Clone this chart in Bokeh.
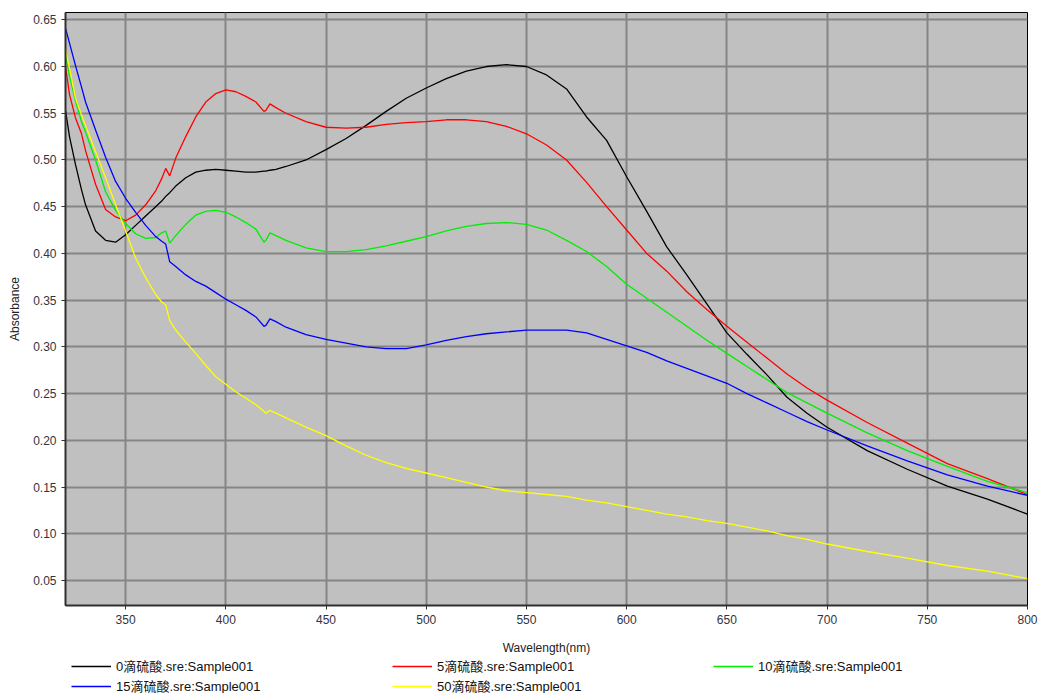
from bokeh.plotting import figure
from bokeh.layouts import column
from bokeh.models import Range1d, Legend, LegendItem, FixedTicker, PrintfTickFormatter
from bokeh.embed import file_html
from bokeh.resources import INLINE

wavelength = [320, 322, 325, 328, 330, 335, 340, 345, 350, 355, 360, 365, 368, 370, 372, 375,
              380, 385, 390, 395, 400, 405, 410, 415, 419, 420, 422, 425, 430, 440, 450, 460,
              470, 480, 490, 500, 510, 520, 530, 540, 550, 560, 570, 580, 590, 600, 610, 620,
              630, 640, 650, 660, 670, 680, 690, 700, 720, 740, 760, 780, 800]

abs_0 = [0.553, 0.525, 0.495, 0.468, 0.452, 0.424, 0.414, 0.412, 0.420, 0.430, 0.440, 0.450, 0.456, 0.461, 0.465, 0.472,
         0.481, 0.487, 0.489, 0.490, 0.489, 0.488, 0.487, 0.487, 0.488, 0.488, 0.489, 0.490, 0.493, 0.500, 0.511, 0.523,
         0.537, 0.552, 0.566, 0.577, 0.587, 0.595, 0.600, 0.602, 0.600, 0.591, 0.576, 0.546, 0.521, 0.482, 0.445, 0.407,
         0.377, 0.346, 0.315, 0.292, 0.270, 0.246, 0.229, 0.214, 0.189, 0.169, 0.151, 0.137, 0.121]

abs_5 = [0.600, 0.570, 0.545, 0.528, 0.510, 0.474, 0.447, 0.439, 0.435, 0.441, 0.452, 0.467, 0.480, 0.491, 0.483, 0.502,
         0.525, 0.546, 0.562, 0.571, 0.575, 0.573, 0.568, 0.562, 0.552, 0.553, 0.560, 0.556, 0.550, 0.541, 0.535, 0.534,
         0.535, 0.538, 0.540, 0.541, 0.543, 0.543, 0.541, 0.536, 0.528, 0.516, 0.500, 0.476, 0.450, 0.425, 0.400, 0.381,
         0.359, 0.340, 0.322, 0.305, 0.288, 0.271, 0.256, 0.243, 0.219, 0.197, 0.175, 0.159, 0.142]

abs_10 = [0.612, 0.590, 0.563, 0.541, 0.530, 0.500, 0.466, 0.446, 0.432, 0.421, 0.416, 0.417, 0.422, 0.424, 0.411, 0.419,
          0.431, 0.441, 0.445, 0.446, 0.444, 0.439, 0.433, 0.426, 0.412, 0.414, 0.422, 0.419, 0.414, 0.406, 0.402, 0.402,
          0.404, 0.408, 0.413, 0.418, 0.424, 0.429, 0.432, 0.433, 0.431, 0.425, 0.414, 0.402, 0.386, 0.367, 0.352, 0.337,
          0.322, 0.307, 0.293, 0.279, 0.265, 0.251, 0.240, 0.229, 0.208, 0.189, 0.172, 0.156, 0.144]

abs_15 = [0.641, 0.625, 0.601, 0.578, 0.562, 0.532, 0.503, 0.477, 0.459, 0.444, 0.430, 0.418, 0.413, 0.410, 0.391, 0.386,
          0.377, 0.370, 0.365, 0.358, 0.351, 0.345, 0.339, 0.332, 0.322, 0.323, 0.330, 0.327, 0.321, 0.313, 0.308, 0.304,
          0.300, 0.298, 0.298, 0.302, 0.307, 0.311, 0.314, 0.316, 0.318, 0.318, 0.318, 0.315, 0.308, 0.301, 0.294, 0.285,
          0.277, 0.269, 0.261, 0.250, 0.240, 0.230, 0.220, 0.211, 0.194, 0.178, 0.163, 0.151, 0.141]

abs_50 = [0.618, 0.598, 0.566, 0.548, 0.537, 0.509, 0.481, 0.452, 0.424, 0.395, 0.374, 0.356, 0.348, 0.345, 0.328, 0.318,
          0.305, 0.293, 0.280, 0.268, 0.260, 0.252, 0.245, 0.238, 0.231, 0.229, 0.232, 0.229, 0.224, 0.214, 0.205, 0.194,
          0.184, 0.176, 0.170, 0.165, 0.160, 0.155, 0.150, 0.146, 0.144, 0.142, 0.140, 0.136, 0.133, 0.129, 0.125, 0.121,
          0.118, 0.114, 0.111, 0.107, 0.103, 0.098, 0.094, 0.089, 0.081, 0.074, 0.066, 0.060, 0.052]

series_labels = ["0滴硫酸.sre:Sample001", "5滴硫酸.sre:Sample001", "10滴硫酸.sre:Sample001",
                 "15滴硫酸.sre:Sample001", "50滴硫酸.sre:Sample001"]
series_colors = ["#000000", "#FF0000", "#00EE00", "#0000FF", "#FFFF00"]

x_ticks = [350, 400, 450, 500, 550, 600, 650, 700, 750, 800]
y_ticks = [0.05, 0.10, 0.15, 0.20, 0.25, 0.30, 0.35, 0.40, 0.45, 0.50, 0.55, 0.60, 0.65]

FONT = "Liberation Sans, Arial, Noto Sans CJK SC, sans-serif"

p = figure(width=1038, height=658, x_range=Range1d(320, 800), y_range=Range1d(0.0232, 0.6578),
           output_backend="svg", toolbar_location=None,
           min_border_left=65, min_border_right=11, min_border_top=12, min_border_bottom=53)

p.background_fill_color = "#C0C0C0"
p.border_fill_color = "white"
p.outline_line_color = "#000000"
p.outline_line_width = 1

for ax in (p.xaxis[0], p.yaxis[0]):
    ax.axis_line_color = "#303030"
    ax.axis_line_width = 2
    ax.major_tick_line_color = "#303030"
    ax.major_tick_in = 0
    ax.major_tick_out = 4
    ax.minor_tick_line_color = None
    ax.major_label_text_font = FONT
    ax.major_label_text_font_size = "12px"
    ax.major_label_text_color = "#333340"
    ax.axis_label_text_font = FONT
    ax.axis_label_text_font_size = "12px"
    ax.axis_label_text_font_style = "normal"
    ax.axis_label_text_color = "#222222"

p.xaxis.ticker = FixedTicker(ticks=x_ticks)
p.yaxis.ticker = FixedTicker(ticks=y_ticks)
p.yaxis.formatter = PrintfTickFormatter(format="%.2f")
p.xaxis.axis_label = "Wavelength(nm)"
p.yaxis.axis_label = "Absorbance"
p.xaxis.axis_label_standoff = 14
p.yaxis.axis_label_standoff = 8

p.xgrid.ticker = FixedTicker(ticks=x_ticks)
p.ygrid.ticker = FixedTicker(ticks=y_ticks)
for g in (p.xgrid[0], p.ygrid[0]):
    g.grid_line_color = "#858585"
    g.grid_line_width = 2

all_series = [abs_0, abs_5, abs_10, abs_15, abs_50]
for vals, col in zip(all_series, series_colors):
    p.line(wavelength, vals, line_color=col, line_width=1.3)

# legend strip below the chart (its own lines sit outside its visible range)
p2 = figure(width=1038, height=35, output_backend="svg", toolbar_location=None,
            x_axis_type=None, y_axis_type=None, min_border=0,
            x_range=Range1d(320, 800), y_range=Range1d(10, 11))
p2.outline_line_color = None
p2.xgrid.visible = False
p2.ygrid.visible = False
p2.border_fill_color = "white"
p2.background_fill_color = "white"

items = []
for lab, vals, col in zip(series_labels, all_series, series_colors):
    r = p2.line(wavelength, vals, line_color=col, line_width=1.3)
    items.append(LegendItem(label=lab, renderers=[r]))

legend = Legend(items=items, orientation="horizontal", ncols=3,
                location=(6, -2), padding=0, margin=0, spacing=1,
                glyph_width=40, glyph_height=18, label_height=18, label_width=275,
                label_standoff=5, label_text_font=FONT, label_text_font_size="13px",
                label_text_color="#111111", border_line_color=None,
                background_fill_alpha=0, click_policy="none")
p2.add_layout(legend, "center")

open("out.html", "w").write(file_html(column(p, p2, spacing=0), INLINE))
